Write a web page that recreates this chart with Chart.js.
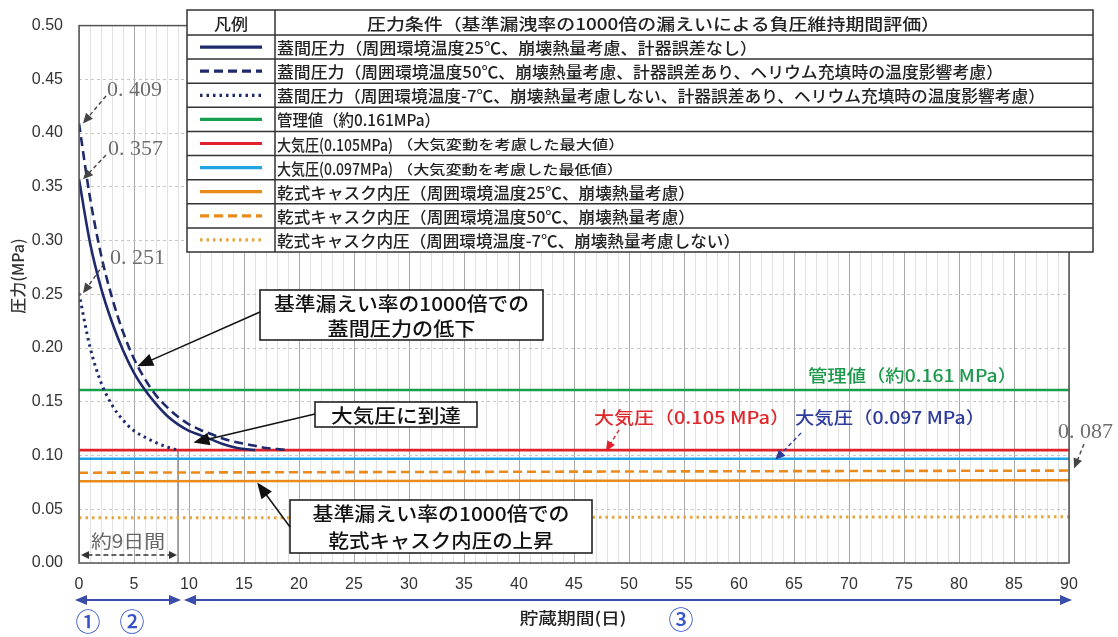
<!DOCTYPE html>
<html>
<head>
<meta charset="utf-8">
<script src="https://cdn.jsdelivr.net/npm/chart.js@4.4.1/dist/chart.umd.min.js"></script>
<style>
  html, body { margin: 0; padding: 0; background: #fff; }
  #wrap { width: 1118px; height: 637px; }
</style>
</head>
<body>
<div id="wrap"><canvas id="chart" width="1118" height="637"></canvas></div>
<script>
// --- data ---
const dayLid25 = [0, 1, 2, 3, 4, 5, 6, 7, 8, 9, 10, 11, 12, 13, 14, 15, 16];
const lid25 = [0.357, 0.298, 0.256, 0.224, 0.198, 0.177, 0.161, 0.148, 0.137, 0.129, 0.123, 0.119, 0.115, 0.111, 0.108, 0.106, 0.105];

const dayLid50 = [0, 1, 2, 3, 4, 5, 6, 7, 8, 9, 10, 11, 12, 13, 14, 15, 16, 17, 18, 19];
const lid50 = [0.409, 0.340, 0.287, 0.247, 0.215, 0.190, 0.171, 0.156, 0.145, 0.136, 0.129, 0.124, 0.120, 0.116, 0.113, 0.111, 0.109, 0.107, 0.106, 0.105];

const dayLidM7 = [0, 1, 2, 3, 4, 5, 6, 7, 8, 9];
const lidM7 = [0.251, 0.201, 0.168, 0.147, 0.133, 0.123, 0.117, 0.112, 0.108, 0.105];

const spanDays = [0, 90];
const controlValue = [0.161, 0.161];
const atmMax = [0.105, 0.105];
const atmMin = [0.097, 0.097];
const cask25 = [0.076, 0.077];
const cask50 = [0.084, 0.086];
const caskM7 = [0.042, 0.043];

const legendHeader = ['凡例', '圧力条件（基準漏洩率の1000倍の漏えいによる負圧維持期間評価）'];
const seriesLabels = [
  '蓋間圧力（周囲環境温度25℃、崩壊熱量考慮、計器誤差なし）',
  '蓋間圧力（周囲環境温度50℃、崩壊熱量考慮、計器誤差あり、ヘリウム充填時の温度影響考慮）',
  '蓋間圧力（周囲環境温度-7℃、崩壊熱量考慮しない、計器誤差あり、ヘリウム充填時の温度影響考慮）',
  '管理値（約0.161MPa）',
  '大気圧(0.105MPa)',
  '大気圧(0.097MPa)',
  '乾式キャスク内圧（周囲環境温度25℃、崩壊熱量考慮）',
  '乾式キャスク内圧（周囲環境温度50℃、崩壊熱量考慮）',
  '乾式キャスク内圧（周囲環境温度-7℃、崩壊熱量考慮しない）'
];
const seriesNotes = ['', '', '', '', '（大気変動を考慮した最大値）', '（大気変動を考慮した最低値）', '', '', ''];
// measured text widths in the reference table
const labelWidths = [480, 726, 768, 163, 116, 116, 418, 418, 463];
const noteWidths = [0, 0, 0, 0, 236, 226, 0, 0, 0];

const xTickStep = 5;
const yTickStep = 0.05;

// --- colours ---
const navy = '#1f2a6c';
const green = '#16a04e';
const red = '#e0222c';
const sky = '#22a3e4';
const orange = '#e98a1b';
const orangeDot = '#eaa43a';

const pts = (xs, ys) => xs.map((x, i) => ({ x, y: ys[i] }));

const datasets = [
  { data: pts(dayLid25, lid25), borderColor: navy, borderDash: [], cubicInterpolationMode: 'monotone' },
  { data: pts(dayLid50, lid50), borderColor: navy, borderDash: [9, 5], cubicInterpolationMode: 'monotone' },
  { data: pts(dayLidM7, lidM7), borderColor: navy, borderDash: [2.5, 4], borderWidth: 3, cubicInterpolationMode: 'monotone' },
  { data: pts(spanDays, controlValue), borderColor: green, borderDash: [] },
  { data: pts(spanDays, atmMax), borderColor: red, borderDash: [] },
  { data: pts(spanDays, atmMin), borderColor: sky, borderDash: [] },
  { data: pts(spanDays, cask25), borderColor: orange, borderDash: [] },
  { data: pts(spanDays, cask50), borderColor: orange, borderDash: [9, 5] },
  { data: pts(spanDays, caskM7), borderColor: orangeDot, borderDash: [2.5, 4], borderWidth: 3 }
].map((d, i) => ({
  label: seriesLabels[i],
  borderWidth: 2.6,
  pointRadius: 0,
  fill: false,
  ...d
}));

const JP = '"Noto Sans CJK JP", "Noto Sans", sans-serif';
const SERIF = '"Liberation Serif", "DejaVu Serif", serif';

function head(ctx, x, y, ang, L, W) {
  const c = Math.cos(ang), s = Math.sin(ang);
  ctx.beginPath();
  ctx.moveTo(x, y);
  ctx.lineTo(x - L * c + W * s, y - L * s - W * c);
  ctx.lineTo(x - L * c - W * s, y - L * s + W * c);
  ctx.closePath();
  ctx.fill();
}

function arrow(ctx, x1, y1, x2, y2, o = {}) {
  const ang = Math.atan2(y2 - y1, x2 - x1);
  const L = o.L || 12, W = o.W || 5;
  const s = o.both ? L * 0.8 : 0;
  ctx.save();
  ctx.strokeStyle = ctx.fillStyle = o.color || '#111';
  ctx.lineWidth = o.lw || 1.5;
  ctx.setLineDash(o.dash || []);
  ctx.beginPath();
  ctx.moveTo(x1 + Math.cos(ang) * s, y1 + Math.sin(ang) * s);
  ctx.lineTo(x2 - Math.cos(ang) * L * 0.8, y2 - Math.sin(ang) * L * 0.8);
  ctx.stroke();
  ctx.setLineDash([]);
  head(ctx, x2, y2, ang, L, W);
  if (o.both) head(ctx, x1, y1, ang + Math.PI, L, W);
  ctx.restore();
}

// draw text squeezed/stretched to the width it has in the reference
function fitText(ctx, text, x, y, w, font, color, align = 'left') {
  ctx.save();
  ctx.font = font;
  ctx.fillStyle = color;
  ctx.textBaseline = 'middle';
  ctx.textAlign = 'left';
  const m = ctx.measureText(text).width;
  const k = w ? Math.max(0.75, Math.min(1.25, w / m)) : 1;
  const x0 = align === 'center' ? x - (m * k) / 2 : x;
  ctx.translate(x0, y);
  ctx.scale(k, 1);
  ctx.fillText(text, 0, 0);
  ctx.restore();
}

function textBox(ctx, lines, x1, y1, x2, y2, w) {
  ctx.save();
  ctx.fillStyle = '#fff';
  ctx.fillRect(x1, y1, x2 - x1, y2 - y1);
  ctx.strokeStyle = '#222';
  ctx.lineWidth = 1.6;
  ctx.strokeRect(x1, y1, x2 - x1, y2 - y1);
  ctx.restore();
  const cx = (x1 + x2) / 2;
  const step = (y2 - y1) / lines.length;
  lines.forEach((t, i) => fitText(ctx, t, cx, y1 + step * (i + 0.5) + 1, w[i], '500 19px ' + JP, '#111', 'center'));
}

const overlay = {
  id: 'overlay',
  beforeDatasetsDraw(chart) {
    const { ctx, chartArea: a, scales: { x, y } } = chart;
    ctx.save();
    // day-9 marker
    ctx.strokeStyle = '#555';
    ctx.lineWidth = 1;
    ctx.beginPath();
    ctx.moveTo(x.getPixelForValue(9), y.getPixelForValue(0.105));
    ctx.lineTo(x.getPixelForValue(9), a.bottom);
    ctx.stroke();
    ctx.restore();
  },
  afterDraw(chart) {
    const { ctx, chartArea: a, scales: { x, y } } = chart;
    const X = v => x.getPixelForValue(v);
    const Y = v => y.getPixelForValue(v);

    // plot frame
    ctx.save();
    ctx.strokeStyle = '#555';
    ctx.lineWidth = 1.5;
    ctx.strokeRect(a.left, a.top, a.width, a.height);
    ctx.restore();

    // y title
    ctx.save();
    ctx.translate(18, 276);
    ctx.rotate(-Math.PI / 2);
    ctx.font = '500 16px ' + JP;
    ctx.fillStyle = '#333';
    ctx.textAlign = 'center';
    ctx.textBaseline = 'middle';
    ctx.fillText('圧力(MPa)', 0, 0);
    ctx.restore();

    // start / end value call-outs
    const grey = '#6e6e6e';
    const callouts = [
      ['0. 409', 107, 90, 0, 0.409, 106, 96],
      ['0. 357', 108, 149, 0, 0.357, 106, 155],
      ['0. 251', 110, 258, 0, 0.251, 104, 264],
      ['0. 087', 1058, 432, 90, 0.088, 1084, 444]
    ];
    callouts.forEach(([t, tx, ty, dx, dy, ax, ay]) => {
      fitText(ctx, t, tx, ty, 55, '21px ' + SERIF, grey);
      const tipX = X(dx) + (dx === 90 ? 5 : 4);
      arrow(ctx, ax, ay, tipX, Y(dy), { color: '#444', dash: [4, 3], lw: 1.4, L: 10, W: 4.5 });
    });

    // text boxes with arrows
    textBox(ctx, ['基準漏えい率の1000倍での', '蓋間圧力の低下'], 260, 290, 543, 340, [255, 148]);
    arrow(ctx, 260, 312, X(5.3), Y(0.183), { L: 16, W: 6.5 });
    textBox(ctx, ['大気圧に到達'], 315, 402, 477, 427, [130]);
    arrow(ctx, 315, 414, X(10.4), Y(0.112), { L: 16, W: 6.5 });
    textBox(ctx, ['基準漏えい率の1000倍での', '乾式キャスク内圧の上昇'], 290, 500, 592, 553, [257, 225]);
    arrow(ctx, 290, 527, X(16.2), Y(0.075), { L: 16, W: 6.5 });

    // line labels
    fitText(ctx, '管理値（約0.161 MPa）', 808, 376, 209, '500 17px ' + JP, '#1c9a4c');
    fitText(ctx, '大気圧（0.105 MPa）', 594, 418, 196, '500 17px ' + JP, '#e0282c');
    fitText(ctx, '大気圧（0.097 MPa）', 795, 418, 190, '500 17px ' + JP, '#2d3c9c');
    arrow(ctx, 619, 430, X(47.9), Y(0.104), { color: red, dash: [4, 3], lw: 1.4, L: 10, W: 4.5 });
    arrow(ctx, 801, 433, X(63.3), Y(0.096), { color: '#2d3c9c', dash: [4, 3], lw: 1.4, L: 10, W: 4.5 });

    // about 9 days
    fitText(ctx, '約9日間', 128, 541, 74, '18px ' + JP, '#666', 'center');
    arrow(ctx, X(0) + 2, 555, X(9) - 1, 555, { color: '#333', dash: [5, 3], lw: 1.4, L: 8, W: 4, both: true });

    // bottom period arrows, x title, circled numbers
    const blue = '#3a4cab';
    arrow(ctx, X(0) - 4, 600, X(9) + 3, 600, { color: blue, lw: 2, L: 12, W: 5, both: true });
    arrow(ctx, X(9) + 6, 600, X(90) + 3, 600, { color: blue, lw: 2, L: 12, W: 5, both: true });
    fitText(ctx, '貯蔵期間(日)', 573, 618, 107, '500 16px ' + JP, '#222', 'center');
    ctx.save();
    ctx.font = '500 25px ' + JP;
    ctx.fillStyle = '#3552c8';
    ctx.textAlign = 'center';
    ctx.textBaseline = 'middle';
    ctx.fillText('①', 88, 621);
    ctx.fillText('②', 132, 621);
    ctx.fillText('③', 681, 619);
    ctx.restore();

    // legend table
    const L = 187, R = 1093, T = 10, HB = 35, B = 252, C = 275;
    const rowH = (B - HB) / seriesLabels.length;
    ctx.save();
    ctx.fillStyle = '#fff';
    ctx.fillRect(L, T, R - L, B - T);
    ctx.strokeStyle = '#333';
    ctx.lineWidth = 1.5;
    ctx.strokeRect(L, T, R - L, B - T);
    ctx.beginPath();
    ctx.moveTo(C, T); ctx.lineTo(C, B);
    for (let i = 0; i < seriesLabels.length; i++) {
      const yy = HB + rowH * i;
      ctx.moveTo(L, yy); ctx.lineTo(R, yy);
    }
    ctx.stroke();
    ctx.restore();

    const tableFont = '500 16px ' + JP;
    fitText(ctx, legendHeader[0], (L + C) / 2, (T + HB) / 2 + 1, 34, tableFont, '#222', 'center');
    fitText(ctx, legendHeader[1], 367, (T + HB) / 2 + 1, 573, tableFont, '#222');

    chart.data.datasets.forEach((ds, i) => {
      const cy = HB + rowH * (i + 0.5);
      ctx.save();
      ctx.strokeStyle = ds.borderColor;
      ctx.lineWidth = 3.2;
      ctx.setLineDash(ds.borderDash);
      ctx.beginPath();
      ctx.moveTo(200, cy);
      ctx.lineTo(262, cy);
      ctx.stroke();
      ctx.restore();
      fitText(ctx, seriesLabels[i], 277, cy + 1, labelWidths[i], tableFont, '#222');
      if (seriesNotes[i]) fitText(ctx, seriesNotes[i], 397, cy + 1, noteWidths[i], '500 13px ' + JP, '#222');
    });
  }
};

new Chart(document.getElementById('chart'), {
  type: 'line',
  data: { datasets },
  options: {
    responsive: false,
    animation: false,
    layout: { padding: { top: 24, right: 49, left: 0, bottom: 0 } },
    plugins: { legend: { display: false }, tooltip: { enabled: false } },
    scales: {
      x: {
        type: 'linear',
        min: 0,
        max: 90,
        ticks: {
          stepSize: 1,
          maxTicksLimit: 100,
          autoSkip: false,
          maxRotation: 0,
          padding: 12,
          color: '#333',
          font: { family: '"Liberation Sans", Arial, sans-serif', size: 16 },
          callback: v => (v % xTickStep === 0 ? v : '')
        },
        grid: {
          drawTicks: false,
          lineWidth: 1,
          color: c => (c.tick && c.tick.value % xTickStep === 0 ? '#a9a9a9' : '#e2e2e2')
        },
        border: { display: false },
        afterFit: s => { s.height = 74; }
      },
      y: {
        min: 0,
        max: 0.5,
        ticks: {
          stepSize: yTickStep,
          padding: 16,
          color: '#333',
          font: { family: '"Liberation Sans", Arial, sans-serif', size: 16 },
          callback: v => v.toFixed(2)
        },
        grid: { drawTicks: false, color: '#c6c6c6', lineWidth: 1 },
        border: { display: false, dash: [3, 3] },
        afterFit: s => { s.width = 79; }
      }
    }
  },
  plugins: [overlay]
});
</script>
</body>
</html>
